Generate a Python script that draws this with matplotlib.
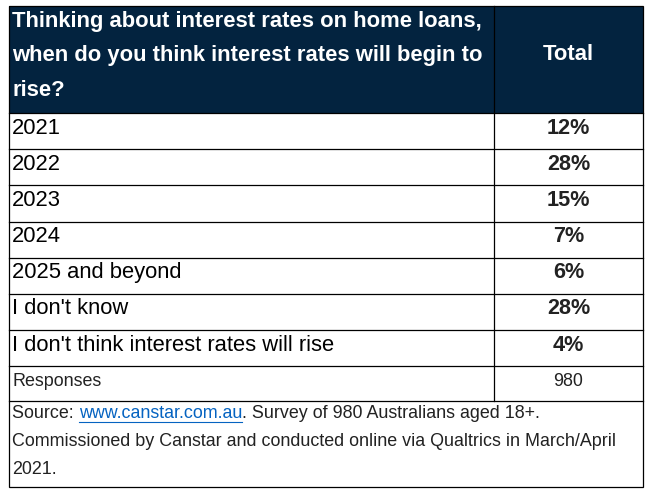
import matplotlib
matplotlib.use('Agg')
from matplotlib import pyplot as plt
from matplotlib.patches import Rectangle

plt.rcParams['font.family'] = ['Liberation Sans', 'DejaVu Sans']

# Data
header_lines = ["Thinking about interest rates on home loans,",
                "when do you think interest rates will begin to",
                "rise?"]
header_total = "Total"
categories = ["2021", "2022", "2023", "2024", "2025 and beyond",
              "I don't know", "I don't think interest rates will rise"]
values = ["12%", "28%", "15%", "7%", "6%", "28%", "4%"]
responses_label = "Responses"
responses_value = "980"
source_prefix = "Source: "
source_link = "www.canstar.com.au"
source_rest = ". Survey of 980 Australians aged 18+."
footer_lines = ["Commissioned by Canstar and conducted online via Qualtrics in March/April",
                "2021."]

NAVY = '#03233f'
W, H = 653, 500
fig = plt.figure(figsize=(W / 100, H / 100), dpi=100)
ax = fig.add_axes([0, 0, 1, 1])
ax.set_xlim(0, W)
ax.set_ylim(H, 0)
ax.axis('off')

left, right, mid = 9, 643, 494
top, head_bot = 6, 113
row_h = 36.2
resp_top = head_bot + row_h * len(categories)
resp_bot = 401
foot_bot = 487
x_val = (mid + right) / 2

# header
ax.add_patch(Rectangle((left, top), right - left, head_bot - top,
                       facecolor=NAVY, edgecolor='none'))
for i, line in enumerate(header_lines):
    ax.text(12, 21 + 35 * i, line, color='white', fontsize=15.8,
            fontweight='bold', va='center', ha='left')
ax.text(x_val, 55, header_total, color='white', fontsize=15.8,
        fontweight='bold', va='center', ha='center')

# rows
for i, (cat, val) in enumerate(zip(categories, values)):
    y0 = head_bot + row_h * i
    ax.text(12, y0 + 15, cat, color='black', fontsize=15.8,
            va='center', ha='left')
    ax.text(x_val, y0 + 15, val, color='#222222', fontsize=15.6,
            fontweight='bold', va='center', ha='center')
    ax.plot([left, right], [y0, y0], color='black', lw=0.9)

ax.plot([left, right], [resp_top, resp_top], color='black', lw=0.9)
ax.text(12, 382, responses_label, color='#222222', fontsize=12.9,
        va='center', ha='left')
ax.text(x_val, 382, responses_value, color='#222222',
        fontsize=12.9, va='center', ha='center')
ax.plot([left, right], [resp_bot, resp_bot], color='black', lw=0.9)

# footer
fig.canvas.draw()
renderer = fig.canvas.get_renderer()
inv = ax.transData.inverted()


def put(x, y, s, **kw):
    t = ax.text(x, y, s, fontsize=12.9, va='center', ha='left', **kw)
    bb = t.get_window_extent(renderer)
    x1 = inv.transform((bb.x1, bb.y0))[0]
    return t, x1


_, x = put(12, 414, source_prefix, color='#222222')
_, x2 = put(x, 414, source_link, color='#0563c1')
ax.plot([x, x2], [422, 422], color='#0563c1', lw=0.8)
put(x2, 414, source_rest, color='#222222')
for i, line in enumerate(footer_lines):
    put(12, 441 + 28 * i, line, color='#222222')

# borders
ax.plot([mid, mid], [top, resp_bot], color='black', lw=0.9)
ax.add_patch(Rectangle((left, top), right - left, foot_bot - top,
                       facecolor='none', edgecolor='black', lw=0.9))

fig.savefig('out.png', dpi=100)
